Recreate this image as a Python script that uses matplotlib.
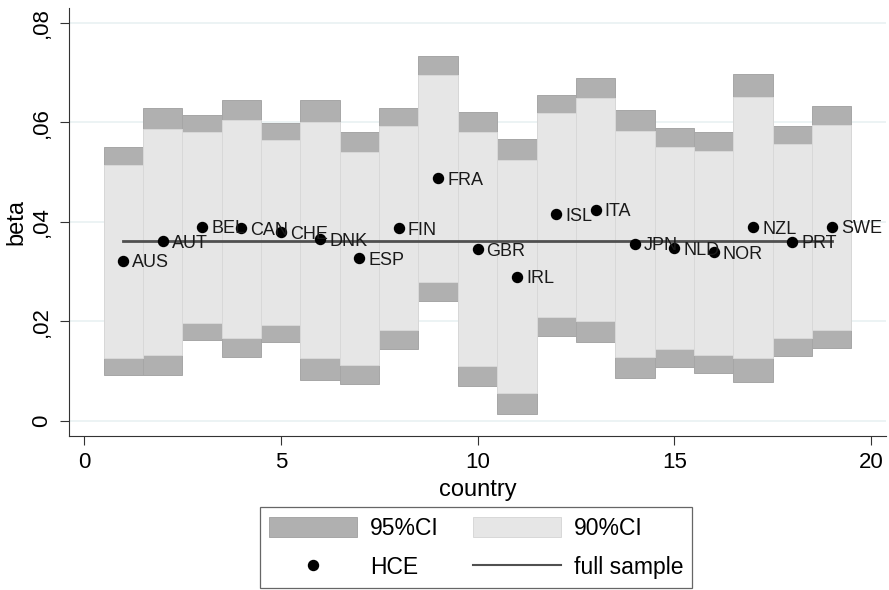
import matplotlib
matplotlib.use('Agg')
import matplotlib.pyplot as plt
from matplotlib.patches import Patch
from matplotlib.lines import Line2D
import numpy as np

plt.rcParams['font.family'] = ['Liberation Sans', 'DejaVu Sans']

# country codes and estimates
countries = ['AUS', 'AUT', 'BEL', 'CAN', 'CHE', 'DNK', 'ESP', 'FIN', 'FRA',
             'GBR', 'IRL', 'ISL', 'ITA', 'JPN', 'NLD', 'NOR', 'NZL', 'PRT',
             'SWE']
beta = [0.0322, 0.0361, 0.0390, 0.0387, 0.0379, 0.0365, 0.0327, 0.0387,
        0.0488, 0.0345, 0.0290, 0.0415, 0.0424, 0.0356, 0.0347, 0.0339,
        0.0389, 0.0360, 0.0390]
hi95 = [0.0551, 0.0629, 0.0615, 0.0644, 0.0598, 0.0644, 0.0580, 0.0629,
        0.0734, 0.0621, 0.0566, 0.0655, 0.0689, 0.0625, 0.0588, 0.0581,
        0.0697, 0.0592, 0.0633]
hi90 = [0.0515, 0.0586, 0.0580, 0.0605, 0.0564, 0.0600, 0.0541, 0.0592,
        0.0695, 0.0580, 0.0525, 0.0618, 0.0649, 0.0583, 0.0551, 0.0543,
        0.0650, 0.0556, 0.0595]
lo90 = [0.0127, 0.0133, 0.0196, 0.0167, 0.0193, 0.0126, 0.0113, 0.0182,
        0.0280, 0.0111, 0.0056, 0.0209, 0.0200, 0.0129, 0.0144, 0.0132,
        0.0126, 0.0166, 0.0183]
lo95 = [0.0093, 0.0093, 0.0163, 0.0128, 0.0159, 0.0082, 0.0074, 0.0144,
        0.0242, 0.0070, 0.0014, 0.0171, 0.0158, 0.0087, 0.0108, 0.0096,
        0.0078, 0.0131, 0.0146]
full_sample = 0.0361

ytick_vals = [0, 0.02, 0.04, 0.06, 0.08]
ytick_labels = ['0', ',02', ',04', ',06', ',08']
xtick_vals = [0, 5, 10, 15, 20]

c95 = '#b0b0b0'
c90 = '#e6e6e6'
cline = '#505050'

x = np.arange(1, len(countries) + 1)
hi95 = np.array(hi95)
lo95 = np.array(lo95)
hi90 = np.array(hi90)
lo90 = np.array(lo90)

fig = plt.figure(figsize=(8.89, 5.90), dpi=100)
ax = fig.add_axes([69 / 889, 1 - 436 / 590, 817 / 889, 427.7 / 590])

# gridlines first
for yv in ytick_vals:
    ax.axhline(yv, color='#eaf2f3', linewidth=1.3, zorder=0)

# 95% bars, then 90% bars over them
ax.bar(x, hi95 - lo95, bottom=lo95, width=1.0, color=c95,
       edgecolor='#a6a6a6', linewidth=0.7, zorder=1)
ax.bar(x, hi90 - lo90, bottom=lo90, width=1.0, color=c90,
       edgecolor='#d8d8d8', linewidth=0.7, zorder=2)

# full sample line
ax.plot([x[0], x[-1]], [full_sample, full_sample], color=cline,
        linewidth=2.0, zorder=3)

# point estimates with labels
ax.plot(x, beta, 'o', color='black', markersize=7.2, zorder=4)
for xi, bi, name in zip(x, beta, countries):
    ax.annotate(name, (xi, bi), xytext=(6.5, -4.7), textcoords='offset points',
                ha='left', va='baseline', fontsize=13, color='#1a1a1a',
                zorder=5)

ax.set_xlim(-0.381, 20.38)
ax.set_ylim(-0.00301, 0.0829)

ax.set_yticks(ytick_vals)
ax.set_yticklabels(ytick_labels, rotation=90, va='center')
ax.set_xticks(xtick_vals)

ax.tick_params(axis='both', direction='out', length=6.5, width=0.8,
               color='#333333', labelsize=16, labelcolor='black')
ax.tick_params(axis='y', pad=6)
ax.tick_params(axis='x', pad=5)

for side in ['top', 'right']:
    ax.spines[side].set_visible(False)
for side in ['left', 'bottom']:
    ax.spines[side].set_color('#333333')
    ax.spines[side].set_linewidth(0.8)

ax.set_xlabel('country', fontsize=17, labelpad=4)
ax.set_ylabel('beta', fontsize=17, labelpad=2)

handles = [
    Patch(facecolor=c95, edgecolor='#a6a6a6', linewidth=0.7),
    Line2D([], [], marker='o', linestyle='none', color='black',
           markersize=7.2),
    Patch(facecolor=c90, edgecolor='#d8d8d8', linewidth=0.7),
    Line2D([], [], color=cline, linewidth=1.5),
]
labels = ['95%CI', 'HCE', '90%CI', 'full sample']
leg = fig.legend(handles, labels, loc='lower center', ncol=2,
                 bbox_to_anchor=(476 / 889, 2 / 590),
                 borderaxespad=0, fontsize=16.5,
                 handlelength=3.85, handleheight=1.0, handletextpad=0.55,
                 labelspacing=0.7, borderpad=0.4, columnspacing=1.5,
                 fancybox=False, frameon=True)
leg.get_frame().set_edgecolor('#404040')
leg.get_frame().set_linewidth(0.9)

fig.savefig('out.png', dpi=100)
